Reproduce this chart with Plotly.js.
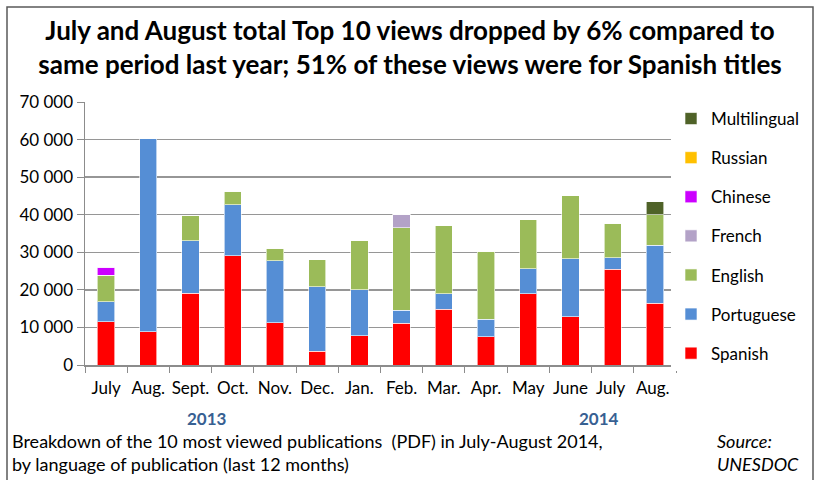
<!DOCTYPE html>
<html><head><meta charset="utf-8">
<script src="https://cdn.plot.ly/plotly-3.0.1.min.js"></script>
<style>html,body{margin:0;padding:0;background:#fff}#c{width:820px;height:480px}</style>
</head><body><div id="c"></div>
<script>
const months = ["July","Aug.","Sept.","Oct.","Nov.","Dec.","Jan.","Feb.","Mar.","Apr.","May","June","July ","Aug. "];
const spanish      = [11500, 8900, 19100, 29100, 11200, 3700, 7800, 11100, 14900, 7500, 19000, 12800, 25500, 16500];
const portuguese   = [5300, 51500, 14000, 13500, 16500, 17100, 12200, 3500, 4100, 4700, 6600, 15500, 3000, 15400];
const english      = [7100, 0, 6700, 3600, 3400, 7200, 13200, 21900, 18100, 18100, 13100, 16700, 9200, 8100];
const french       = [0, 0, 0, 0, 0, 0, 0, 3600, 0, 0, 0, 0, 0, 0];
const chinese      = [2100, 0, 0, 0, 0, 0, 0, 0, 0, 0, 0, 0, 0, 0];
const russian      = [0, 0, 0, 0, 0, 0, 0, 0, 0, 0, 0, 0, 0, 0];
const multilingual = [0, 0, 0, 0, 0, 0, 0, 0, 0, 0, 0, 0, 0, 3400];
const yearLabels = ["2013","2014"];

const FONT = "Lato, 'Liberation Sans', sans-serif";
const series = [
  ["Spanish", spanish, "#FF0000"],
  ["Portuguese", portuguese, "#558ED5"],
  ["English", english, "#9BBB59"],
  ["French", french, "#B3A2C7"],
  ["Chinese", chinese, "#CC00FF"],
  ["Russian", russian, "#FFC000"],
  ["Multilingual", multilingual, "#4F6228"]
];
const traces = series.map(([name, vals, col], i) => ({
  type: "bar", name: name, x: months, y: vals, legendgroup: name,
  legendrank: 100 - i,
  marker: {color: col, line: {color: "rgba(255,255,255,0.6)", width: 1}},
  hoverinfo: "x+y+name"
}));

// plot area: x 85..676, y 102..365
const L = 85, R = 676, T = 102, B = 365;
const px = v => (v - L) / (R - L);
const py = v => (B - v) / (B - T);

const layout = {
  width: 820, height: 480,
  margin: {l: L, r: 820 - R, t: T, b: 480 - B},
  barmode: "stack", bargap: 0.59,
  separators: ". ",
  paper_bgcolor: "#fff", plot_bgcolor: "#fff",
  font: {family: FONT, size: 17, color: "#000"},
  title: {
    text: "<b>July and August total Top 10 views dropped by 6% compared to<br>same period last year; 51% of these views were for Spanish titles</b>",
    font: {family: FONT, size: 26, color: "#000"},
    x: 0.5, xanchor: "center", y: 1 - 40 / 480, yanchor: "middle"
  },
  xaxis: {
    type: "category", tickson: "boundaries", ticks: "outside", ticklen: 6, tickangle: 0,
    ticklabelstandoff: 7,
    tickcolor: "#8c8c8c", showline: true, linecolor: "#8c8c8c", linewidth: 1.5,
    showgrid: false, tickfont: {family: FONT, size: 17}, fixedrange: true
  },
  yaxis: {
    range: [0, 70000], dtick: 10000, tickformat: ",d", ticks: "outside", ticklen: 7,
    tickcolor: "#8c8c8c", showline: true, linecolor: "#8c8c8c", linewidth: 1.5,
    gridcolor: "#969696", gridwidth: 1.5, zeroline: false,
    tickfont: {family: FONT, size: 17}, fixedrange: true
  },
  legend: {
    x: px(671), xanchor: "left", y: py(101), yanchor: "top",
    traceorder: "grouped", tracegroupgap: 14, maxheight: 420,
    font: {family: FONT, size: 17}, itemwidth: 30
  },
  annotations: [
    {text: "<b>" + yearLabels[0] + "</b>", xref: "paper", yref: "paper", x: px(207), xanchor: "center", y: py(418), yanchor: "middle", showarrow: false, font: {family: FONT, size: 17, color: "#376092"}},
    {text: "<b>" + yearLabels[1] + "</b>", xref: "paper", yref: "paper", x: px(599), xanchor: "center", y: py(418), yanchor: "middle", showarrow: false, font: {family: FONT, size: 17, color: "#376092"}},
    {text: "Breakdown of the 10 most viewed publications  (PDF) in July-August 2014,<br>by language of publication (last 12 months)", xref: "paper", yref: "paper", x: px(10), xanchor: "left", y: py(452), yanchor: "middle", align: "left", showarrow: false, font: {family: FONT, size: 18}},
    {text: "<i>Source:<br>UNESDOC</i>", xref: "paper", yref: "paper", x: px(715), xanchor: "left", y: py(452), yanchor: "middle", align: "left", showarrow: false, font: {family: FONT, size: 18}}
  ],
  shapes: [
    {type: "rect", xref: "paper", yref: "paper", x0: px(7), x1: px(813), y0: py(490), y1: py(7), line: {color: "#595959", width: 1.5}, fillcolor: "rgba(0,0,0,0)", layer: "below"}
  ]
};
Plotly.newPlot("c", traces, layout, {displayModeBar: false, staticPlot: true});
</script></body></html>
